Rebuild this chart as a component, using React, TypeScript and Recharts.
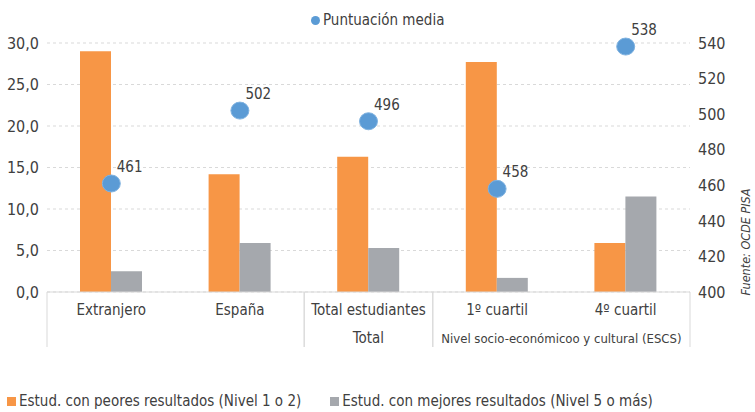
import { Bar, CartesianGrid, ComposedChart, LabelList, Scatter, XAxis, YAxis } from "recharts";

const categories = ["Extranjero", "España", "Total estudiantes", "1º cuartil", "4º cuartil"];
const groupOf = ["", "", "Total", "Nivel socio-económicoo y cultural (ESCS)", "Nivel socio-económicoo y cultural (ESCS)"];
const worst = [29.0, 14.2, 16.3, 27.7, 5.9];
const best = [2.5, 5.9, 5.3, 1.7, 11.5];
const score = [461, 502, 496, 458, 538];
const leftTicks = [0, 5, 10, 15, 20, 25, 30];
const rightTicks = [400, 420, 440, 460, 480, 500, 520, 540];

const data = categories.map((name, i) => ({
  name,
  group: groupOf[i],
  worst: worst[i],
  best: best[i],
  score: score[i],
}));

const FONT = "'Liberation Sans Narrow', 'DejaVu Sans Condensed', sans-serif";
const TEXT = "#404040";
const ORANGE = "#F79646";
const GRAY = "#A5A8AD";
const BLUE = "#5B9BD5";
const LINE = "#D9D9D9";

const W = 755;
const H = 412;
const PLOT_L = 47;
const PLOT_R = 690;
const BAND = (PLOT_R - PLOT_L) / categories.length;

function CategoryTick(props: any) {
  const { x, y, payload, index } = props;
  const i = index as number;
  const lineTop = y - 8;
  const lineBot = lineTop + 55;
  const parts: any[] = [];
  parts.push(
    <text key="t" x={x} y={lineTop + 23} textAnchor="middle" fontSize={15} fill={TEXT} fontFamily={FONT}>
      {payload.value}
    </text>
  );
  // separators at group edges
  const isStart = i === 0 || groupOf[i] !== groupOf[i - 1];
  const isEnd = i === categories.length - 1 || groupOf[i] !== groupOf[i + 1];
  if (isStart) {
    parts.push(<line key="ls" x1={x - BAND / 2} x2={x - BAND / 2} y1={lineTop} y2={lineBot} stroke={LINE} />);
  }
  if (isEnd) {
    parts.push(<line key="le" x1={x + BAND / 2} x2={x + BAND / 2} y1={lineTop} y2={lineBot} stroke={LINE} />);
  }
  // group label once, centred over its members
  if (isStart && groupOf[i]) {
    let n = 1;
    while (i + n < categories.length && groupOf[i + n] === groupOf[i]) n++;
    const cx = x - BAND / 2 + (n * BAND) / 2;
    parts.push(
      <text key="g" x={cx} y={lineTop + 51} textAnchor="middle" fontSize={groupOf[i].length > 10 ? 13 : 15} fill={TEXT} fontFamily={FONT}>
        {groupOf[i]}
      </text>
    );
  }
  return <g>{parts}</g>;
}

function ScoreLabel(props: any) {
  const { x, y, value } = props;
  return (
    <text x={x + 10} y={y - 7} fontSize={15} fill={TEXT} fontFamily={FONT}>
      {value}
    </text>
  );
}

function Dot(props: any) {
  const { cx, cy } = props;
  return <ellipse cx={cx} cy={cy} rx={9} ry={8.5} fill={BLUE} stroke="#7FB2E0" strokeWidth={1} />;
}

export default function App() {
  return (
    <div style={{ position: "absolute", left: 0, top: 0, width: W, height: H, background: "#fff", fontFamily: FONT }}>
      <ComposedChart
        width={W}
        height={H}
        data={data}
        margin={{ top: 43, right: 0, left: 0, bottom: 0 }}
        barGap={0}
        barSize={31}
      >
        <CartesianGrid vertical={false} stroke={LINE} strokeDasharray="3 3" yAxisId="left" />
        <XAxis
          dataKey="name"
          height={120}
          axisLine={{ stroke: LINE }}
          tickLine={false}
          interval={0}
          tick={<CategoryTick />}
        />
        <YAxis
          yAxisId="left"
          width={PLOT_L}
          domain={[0, 30]}
          ticks={leftTicks}
          axisLine={false}
          tickLine={false}
          tickFormatter={(v: number) => v.toFixed(1).replace(".", ",")}
          tick={{ fontSize: 16, fill: TEXT, fontFamily: FONT }}
        />
        <YAxis
          yAxisId="right"
          orientation="right"
          width={W - PLOT_R}
          domain={[400, 540]}
          ticks={rightTicks}
          axisLine={false}
          tickLine={false}
          tick={{ fontSize: 16, fill: TEXT, fontFamily: FONT, textAnchor: "start" }}
        />
        <Bar yAxisId="left" dataKey="worst" fill={ORANGE} isAnimationActive={false} />
        <Bar yAxisId="left" dataKey="best" fill={GRAY} isAnimationActive={false} />
        <Scatter yAxisId="right" dataKey="score" shape={<Dot />} isAnimationActive={false}>
          <LabelList dataKey="score" content={<ScoreLabel />} />
        </Scatter>
      </ComposedChart>

      <div style={{ position: "absolute", left: 311, top: 11, display: "flex", alignItems: "center", fontSize: 15, color: TEXT }}>
        <span style={{ width: 9, height: 9, borderRadius: "50%", background: BLUE, marginRight: 3, display: "inline-block" }} />
        Puntuación media
      </div>

      <div style={{ position: "absolute", left: 7, top: 392, display: "flex", alignItems: "center", fontSize: 15, color: TEXT, whiteSpace: "nowrap" }}>
        <span style={{ width: 9, height: 9, background: ORANGE, marginRight: 3, display: "inline-block" }} />
        Estud. con peores resultados (Nivel 1 o 2)
        <span style={{ width: 9, height: 9, background: GRAY, marginLeft: 29, marginRight: 3, display: "inline-block" }} />
        Estud. con mejores resultados (Nivel 5 o más)
      </div>

      <div
        style={{
          position: "absolute",
          left: 745,
          top: 242,
          transform: "translate(-50%, -50%) rotate(-90deg)",
          fontSize: 12.5,
          fontStyle: "italic",
          color: TEXT,
          whiteSpace: "nowrap",
        }}
      >
        Fuente: OCDE PISA
      </div>
    </div>
  );
}
